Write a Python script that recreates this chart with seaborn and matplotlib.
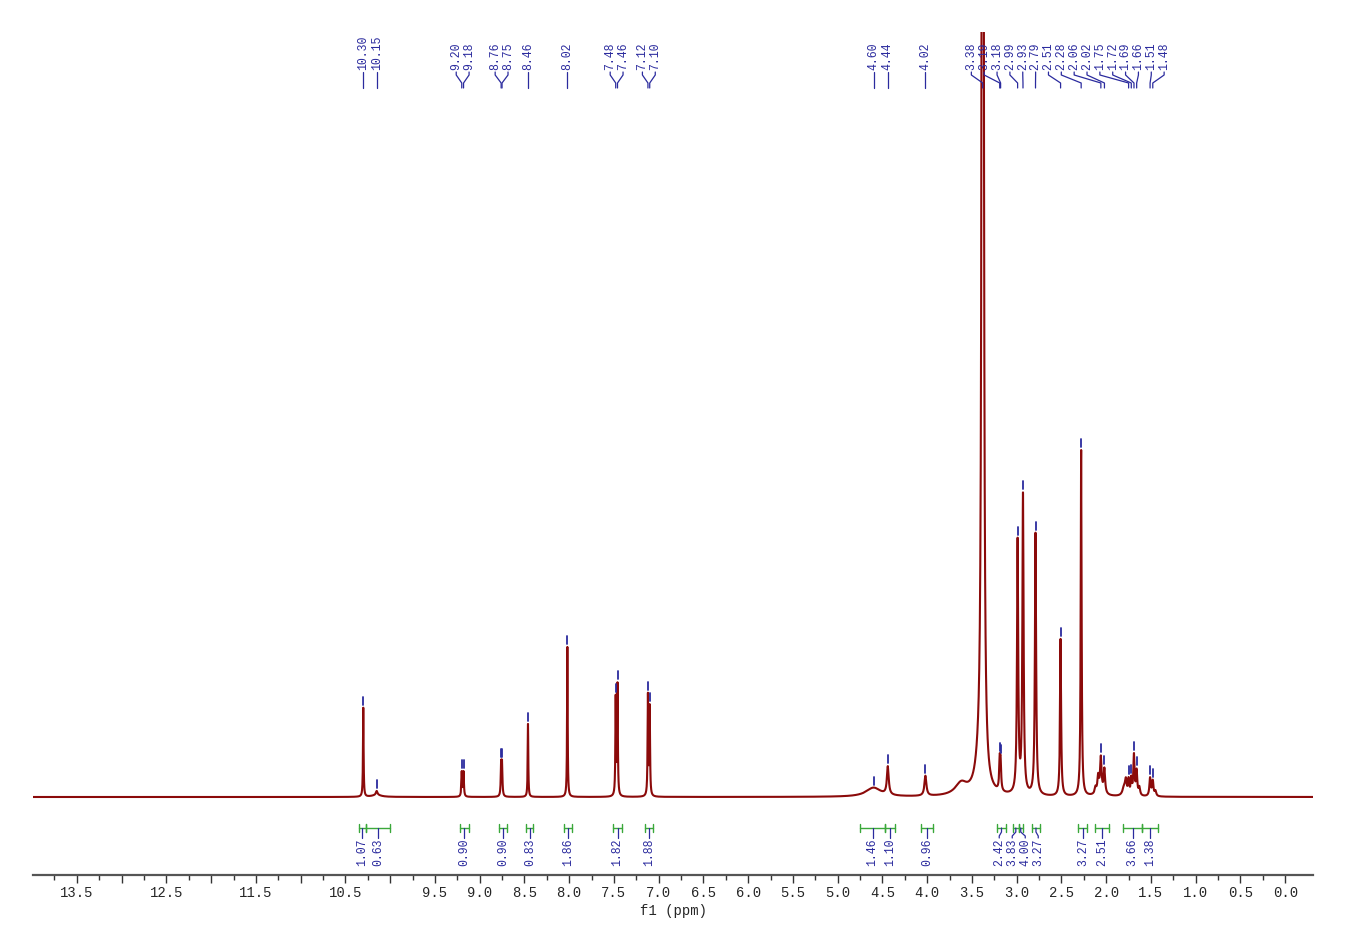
import numpy as np
import pandas as pd
import matplotlib
matplotlib.use("Agg")
import matplotlib.pyplot as plt
import seaborn as sns
from matplotlib.ticker import FixedLocator, FuncFormatter

# components that make up the trace: shift (ppm), height, half width (ppm)
peak_ppm = [10.30, 10.15, 10.15, 9.20, 9.18, 8.76, 8.75, 8.46, 8.02, 7.48, 7.46, 7.12, 7.10,
            4.60, 4.44, 4.02, 3.62, 3.42, 3.38, 3.19, 3.18, 2.99, 2.93, 2.79, 2.51, 2.28,
            2.12, 2.09, 2.06, 2.02, 2.06, 1.80, 1.78, 1.75, 1.72, 1.69, 1.66, 1.63,
            1.51, 1.48, 1.45]
peak_height = [89, 4, 2, 24.5, 24.5, 31, 31, 73, 150, 97, 110, 100, 88,
               9, 28, 20, 12, 20, 4500, 28, 26, 252, 298, 262, 157, 346,
               6, 16, 33, 24, 5, 9, 13, 15, 16, 40, 24, 8,
               18, 15, 5]
peak_hwhm = [0.004, 0.01, 0.06, 0.005, 0.005, 0.005, 0.005, 0.004, 0.004, 0.0045, 0.0045, 0.0045, 0.0045,
             0.1, 0.012, 0.013, 0.08, 0.05, 0.006, 0.007, 0.007, 0.008, 0.008, 0.008, 0.007, 0.006,
             0.01, 0.01, 0.009, 0.009, 0.05, 0.02, 0.01, 0.008, 0.008, 0.008, 0.008, 0.01,
             0.009, 0.009, 0.01]

# chemical shifts printed above the spectrum
label_ppm = [10.30, 10.15, 9.20, 9.18, 8.76, 8.75, 8.46, 8.02, 7.48, 7.46, 7.12, 7.10,
             4.60, 4.44, 4.02, 3.38, 3.19, 3.18, 2.99, 2.93, 2.79, 2.51, 2.28, 2.06, 2.02,
             1.75, 1.72, 1.69, 1.66, 1.51, 1.48]

# integration regions and their values
int_start = [10.35, 10.27, 9.22, 8.78, 8.48, 8.06, 7.51, 7.15, 4.75, 4.47, 4.07,
             3.22, 3.04, 2.98, 2.83, 2.31, 2.12, 1.81, 1.60]
int_end = [10.27, 10.00, 9.12, 8.69, 8.40, 7.97, 7.41, 7.06, 4.47, 4.36, 3.94,
           3.12, 2.98, 2.93, 2.74, 2.21, 1.97, 1.60, 1.42]
int_value = ["1.07", "0.63", "0.90", "0.90", "0.83", "1.86", "1.82", "1.88", "1.46", "1.10", "0.96",
             "2.42", "3.83", "4.00", "3.27", "3.27", "2.51", "3.66", "1.38"]

# x axis
tick_labels = [13.5, 12.5, 11.5, 10.5, 9.5, 9.0, 8.5, 8.0, 7.5, 7.0, 6.5, 6.0, 5.5, 5.0,
               4.5, 4.0, 3.5, 3.0, 2.5, 2.0, 1.5, 1.0, 0.5, 0.0]

RED = "#8b0a0a"
BLUE = "#2b2b9e"
GREEN = "#3aa83a"
PX = 89.5  # pixels per ppm


def spectrum(x):
    y = np.zeros_like(x)
    for c, h, w in zip(peak_ppm, peak_height, peak_hwhm):
        y += h * w ** 2 / ((x - c) ** 2 + w ** 2)
    return y


def spread(pos, gap):
    # push labels apart so they keep at least `gap` ppm between them
    u = [-p for p in pos]
    groups = [[v] for v in u]

    def mid(g):
        return (min(g) + max(g)) / 2

    merged = True
    while merged:
        merged = False
        for i in range(len(groups) - 1):
            a, b = groups[i], groups[i + 1]
            end_a = mid(a) + (len(a) - 1) * gap / 2
            start_b = mid(b) - (len(b) - 1) * gap / 2
            if start_b < end_a + gap:
                groups[i] = a + b
                del groups[i + 1]
                merged = True
                break
    out = []
    for g in groups:
        s = mid(g) - (len(g) - 1) * gap / 2
        out += [-(s + k * gap) for k in range(len(g))]
    return out


sns.set_style("white")
plt.rcParams["font.family"] = ["Liberation Mono", "DejaVu Sans"]

fig = plt.figure(figsize=(13.48, 9.52), dpi=100)
ax = fig.add_axes([33 / 1348, 77 / 952, 1280 / 1348, 843 / 952])

x = np.arange(-0.31, 13.99, 0.0005)
df = pd.DataFrame({"ppm": x, "intensity": spectrum(x)})
sns.lineplot(data=df, x="ppm", y="intensity", ax=ax, color=RED, linewidth=1.5,
             estimator=None, sort=False)

# peak labels with their leader lines
lab_x = spread(label_ppm, 12.85 / PX)
for p, lx in zip(label_ppm, lab_x):
    ax.plot([lx, lx, p, p], [725, 722, 714, 709], color=BLUE, lw=0.9)
    ax.text(lx, 727, f"{p:.2f}", rotation=90, ha="center", va="bottom",
            fontsize=8.3, color=BLUE)
    top = spectrum(np.array([p]))[0]
    ax.plot([p, p], [top + 3, top + 11], color=BLUE, lw=1.3)

# integrals
centers = [(a + b) / 2 for a, b in zip(int_start, int_end)]
int_x = spread(centers, 13.0 / PX)
for a, b, c, lx, v in zip(int_start, int_end, centers, int_x, int_value):
    ax.plot([a, b], [-31, -31], color=GREEN, lw=1.0)
    ax.plot([a, a], [-27, -35], color=GREEN, lw=1.0)
    ax.plot([b, b], [-27, -35], color=GREEN, lw=1.0)
    ax.plot([c, c, lx, lx], [-31, -35, -39, -41], color=BLUE, lw=0.9)
    ax.text(lx, -41, v, rotation=90, ha="center", va="top", fontsize=8.3, color=BLUE)

ax.set_xlim(13.99, -0.31)
ax.set_ylim(-78, 765)
ax.xaxis.set_major_locator(FixedLocator(np.arange(0, 14.01, 0.5)))
ax.xaxis.set_minor_locator(FixedLocator(np.arange(0, 14.01, 0.25)))
ax.xaxis.set_major_formatter(FuncFormatter(
    lambda v, pos: f"{v:.1f}" if any(abs(v - t) < 1e-6 for t in tick_labels) else ""))
ax.tick_params(axis="x", which="major", direction="out", length=6, width=1, color="#333333",
               labelsize=10, pad=2, bottom=True)
ax.tick_params(axis="x", which="minor", direction="out", length=3.5, width=1, color="#333333",
               bottom=True)
ax.set_yticks([])
ax.set_ylabel("")
ax.set_xlabel("f1 (ppm)", fontsize=10, labelpad=3)
for side in ["top", "left", "right"]:
    ax.spines[side].set_visible(False)
ax.spines["bottom"].set_color("#555555")
ax.spines["bottom"].set_linewidth(1.6)

fig.savefig("out.png", dpi=100)
